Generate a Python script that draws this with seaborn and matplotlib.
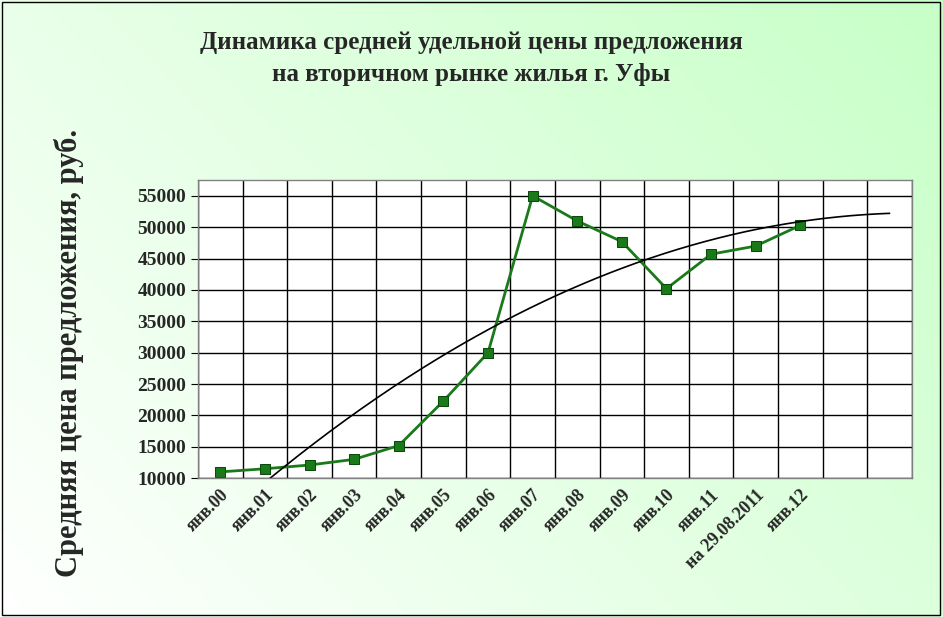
import numpy as np
import matplotlib
matplotlib.use("Agg")
import matplotlib.pyplot as plt
import seaborn as sns

sns.set_style("white")
plt.rcParams['font.family'] = ['Liberation Serif', 'DejaVu Serif']

labels = ['янв.00', 'янв.01', 'янв.02', 'янв.03', 'янв.04', 'янв.05', 'янв.06',
          'янв.07', 'янв.08', 'янв.09', 'янв.10', 'янв.11', 'на 29.08.2011', 'янв.12']
prices = [11000, 11500, 12100, 13000, 15200, 22300, 30000,
          55000, 51000, 47700, 40200, 45700, 47000, 50300]
n_cat = 16

fig = plt.figure(figsize=(9.43, 6.17), dpi=100)

# gradient background
bg = fig.add_axes([0, 0, 1, 1])
gx, gy = np.meshgrid(np.linspace(0, 1, 200), np.linspace(0, 1, 200))
t = np.clip((gx * 0.8 + (1 - gy) * 0.5) / 1.3, 0, 1)
c0 = np.array([1.0, 1.0, 1.0])
c1 = np.array([0.78, 1.0, 0.78])
img = c0 + (c1 - c0) * t[..., None]
bg.imshow(img, extent=[0, 1, 0, 1], aspect='auto', origin='upper')
bg.add_patch(plt.Rectangle((0.002, 0.004), 0.995, 0.992, fill=False, ec='black', lw=1))
bg.set_axis_off()

ax = fig.add_axes([0.21, 0.225, 0.757, 0.483])
ax.set_facecolor('white')
x = np.arange(1, len(prices) + 1)
sns.lineplot(x=x, y=prices, ax=ax, color='#1a7a1a', lw=2, marker='s',
             markersize=7, markerfacecolor='#1a7a1a', markeredgecolor='#0a4a0a')

# polynomial trend (2nd order), extended two periods ahead
coef = np.polyfit(x, prices, 2)
xt = np.linspace(1, n_cat, 300)
ax.plot(xt, np.polyval(coef, xt), color='black', lw=1.2)

ax.set_xlim(0.5, n_cat + 0.5)
ax.set_ylim(10000, 57500)
ax.set_yticks(range(10000, 55001, 5000))
ax.set_xticks(np.arange(0.5, n_cat + 1, 1), minor=False)
ax.set_xticklabels([])
ax.set_xticks(x, minor=True)
ax.set_xticklabels(labels, minor=True, rotation=45, ha='right', rotation_mode='anchor',
                   fontsize=13, fontweight='bold')
ax.tick_params(axis='x', which='minor', length=0, pad=6)
ax.tick_params(axis='x', which='major', length=5, color='black')
ax.tick_params(axis='y', labelsize=14, length=5, left=True, color='black')
for lab in ax.get_yticklabels():
    lab.set_fontweight('bold')
ax.grid(True, which='major', color='black', lw=1)
for s in ax.spines.values():
    s.set_color('gray')
    s.set_linewidth(1)
ax.set_ylabel('Средняя цена предложения, руб.', fontsize=22, fontweight='bold')
ax.yaxis.set_label_coords(-0.16, 0.42)

fig.text(0.5, 0.905, 'Динамика средней удельной цены предложения\nна вторичном рынке жилья г. Уфы',
         ha='center', va='center', fontsize=18, fontweight='bold', linespacing=1.5)

fig.savefig('out.png', dpi=100)
